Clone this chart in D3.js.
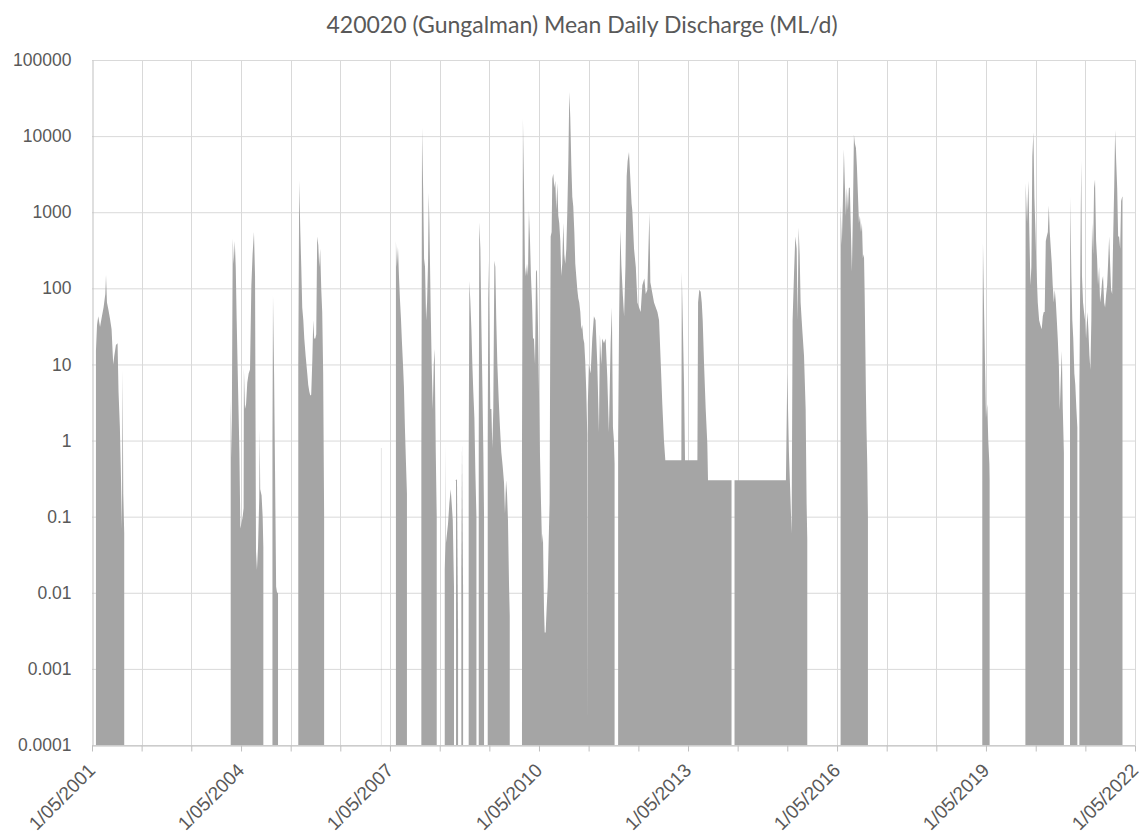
<!DOCTYPE html>
<html>
<head>
<meta charset="utf-8">
<script src="https://cdn.jsdelivr.net/npm/d3@7"></script>
<style>
  body { margin: 0; background: #fff; }
  svg { display: block; font-family: Lato, "Open Sans", sans-serif; }
  .axis text { fill: #595959; font-size: 17.5px; }
  .axis.x text { font-size: 19px; }
  .title { fill: #595959; font-size: 23px; }
</style>
</head>
<body>
<svg id="chart" width="1147" height="837"></svg>
<script>
const chartTitle = "420020 (Gungalman) Mean Daily Discharge (ML/d)"
const yTickValues = [0.0001, 0.001, 0.01, 0.1, 1, 10, 100, 1000, 10000, 100000]
const yTickLabels = ["0.0001", "0.001", "0.01", "0.1", "1", "10", "100", "1000", "10000", "100000"]
const gridYears = [2001, 2002, 2003, 2004, 2005, 2006, 2007, 2008, 2009, 2010, 2011,
    2012, 2013, 2014, 2015, 2016, 2017, 2018, 2019, 2020, 2021, 2022]
const labelYears = [2001, 2004, 2007, 2010, 2013, 2016, 2019, 2022]

// flow events, [date, ML/d] read off the envelope; no flow between events
const flow2001 = [["2001-05-30", 15], ["2001-06-07", 33], ["2001-06-16", 43], ["2001-06-29", 31],
    ["2001-07-13", 43], ["2001-07-25", 56], ["2001-08-07", 84], ["2001-08-12", 150], ["2001-08-19", 65],
    ["2001-08-29", 53], ["2001-09-10", 40], ["2001-09-22", 29], ["2001-10-04", 10], ["2001-10-12", 13],
    ["2001-10-24", 18], ["2001-11-05", 19], ["2001-11-12", 4.4], ["2001-11-22", 1.5], ["2001-11-29", 0.4],
    ["2001-12-07", 0.07], ["2001-12-12", 8.5], ["2001-12-17", 0.2], ["2001-12-24", 0.06]]
const flow2004 = [["2004-02-15", 3.4], ["2004-02-22", 0.6], ["2004-03-01", 450], ["2004-03-08", 210],
    ["2004-03-16", 420], ["2004-03-23", 190], ["2004-03-30", 38], ["2004-04-09", 5], ["2004-04-19", 0.7],
    ["2004-04-26", 0.07], ["2004-05-13", 0.1], ["2004-05-20", 0.13], ["2004-05-22", 9], ["2004-05-30", 2.6],
    ["2004-06-07", 3], ["2004-06-16", 5.8], ["2004-06-26", 7.6], ["2004-07-06", 8.6], ["2004-07-16", 110],
    ["2004-07-25", 280], ["2004-08-04", 550], ["2004-08-12", 145], ["2004-08-19", 0.035], ["2004-08-26", 0.02],
    ["2004-09-03", 0.04], ["2004-09-12", 0.18], ["2004-09-15", 1.4], ["2004-09-19", 0.23], ["2004-09-29", 0.19],
    ["2004-10-07", 0.1], ["2004-10-12", 0.04]]
const flow2005a = [["2004-12-18", 1], ["2004-12-22", 80], ["2004-12-30", 7.6], ["2005-01-06", 0.4],
    ["2005-01-14", 0.012], ["2005-01-21", 0.01], ["2005-01-28", 0.01]]
const flow2005b = [["2005-06-26", 10], ["2005-07-03", 2600], ["2005-07-11", 550], ["2005-07-18", 190],
    ["2005-07-25", 56], ["2005-08-02", 38], ["2005-08-09", 22], ["2005-08-19", 13], ["2005-08-31", 7.6],
    ["2005-09-07", 5.4], ["2005-09-15", 4.4], ["2005-09-22", 3.9], ["2005-09-29", 4], ["2005-10-07", 11],
    ["2005-10-14", 38], ["2005-10-21", 22], ["2005-10-29", 22], ["2005-11-05", 25], ["2005-11-12", 480],
    ["2005-11-20", 370], ["2005-11-27", 190], ["2005-12-04", 330], ["2005-12-12", 96], ["2005-12-19", 49],
    ["2005-12-26", 7.6], ["2006-01-02", 0.1]]
const flow2007a = [["2007-02-24", 0.8], ["2007-02-26", 0.8]]
const flow2007b = [["2007-06-14", 420], ["2007-06-21", 190], ["2007-06-29", 350], ["2007-07-06", 150],
    ["2007-07-13", 75], ["2007-07-21", 40], ["2007-07-28", 20], ["2007-08-05", 10], ["2007-08-12", 5],
    ["2007-08-19", 1.5], ["2007-08-27", 0.5], ["2007-09-03", 0.2]]
const flow2008a = [["2007-12-18", 0.7], ["2007-12-23", 12900], ["2007-12-31", 2100], ["2008-01-07", 245],
    ["2008-01-14", 190], ["2008-01-22", 38], ["2008-01-29", 65], ["2008-02-05", 210], ["2008-02-10", 1800],
    ["2008-02-15", 720], ["2008-02-20", 190], ["2008-02-25", 49], ["2008-03-03", 10], ["2008-03-11", 2.6],
    ["2008-03-18", 10], ["2008-03-25", 16], ["2008-04-02", 0.7], ["2008-04-09", 0.1]]
const flow2008b = [["2008-06-07", 0.02], ["2008-06-12", 0.045], ["2008-06-14", 0.9], ["2008-06-16", 0.045],
    ["2008-07-01", 0.08], ["2008-07-11", 0.15], ["2008-07-21", 0.23], ["2008-07-28", 0.15], ["2008-08-05", 0.09],
    ["2008-08-14", 0.012]]
const flow2008c = [["2008-08-29", 0.3], ["2008-09-05", 0.31], ["2008-09-13", 0.003]]
const flow2008d = [["2008-10-07", 0.02], ["2008-10-12", 0.9], ["2008-10-20", 0.01]]
const flow2009a = [["2008-11-30", 0.5], ["2008-12-05", 125], ["2008-12-12", 69], ["2008-12-20", 29],
    ["2008-12-27", 10], ["2009-01-03", 4.4], ["2009-01-11", 2], ["2009-01-18", 0.4], ["2009-01-26", 0.1]]
const flow2009b = [["2009-02-12", 1], ["2009-02-16", 740], ["2009-02-24", 330], ["2009-03-03", 38],
    ["2009-03-11", 5], ["2009-03-18", 0.7], ["2009-03-23", 0.1]]
const flow2009c = [["2009-04-19", 1], ["2009-04-24", 230], ["2009-05-01", 38], ["2009-05-08", 2.6],
    ["2009-05-16", 2.6], ["2009-05-23", 0.8], ["2009-05-30", 2.6], ["2009-06-07", 230], ["2009-06-14", 190],
    ["2009-06-21", 38], ["2009-06-29", 10], ["2009-07-09", 3.4], ["2009-07-18", 1.5], ["2009-07-28", 0.7],
    ["2009-08-07", 0.46], ["2009-08-17", 0.28], ["2009-08-24", 0.11], ["2009-09-01", 0.3], ["2009-09-08", 0.2],
    ["2009-09-15", 0.09], ["2009-09-23", 0.012], ["2009-09-28", 0.005]]
const flow2010 = [["2009-12-27", 0.7], ["2010-01-03", 16800], ["2010-01-11", 2100], ["2010-01-18", 190],
    ["2010-01-25", 145], ["2010-02-02", 210], ["2010-02-09", 145], ["2010-02-16", 1070], ["2010-02-24", 420],
    ["2010-03-03", 145], ["2010-03-11", 65], ["2010-03-18", 22], ["2010-03-25", 22], ["2010-04-02", 10],
    ["2010-04-09", 165], ["2010-04-16", 175], ["2010-04-24", 29], ["2010-05-01", 4.4], ["2010-05-08", 0.7],
    ["2010-05-16", 0.15], ["2010-05-23", 0.045], ["2010-05-30", 0.06], ["2010-06-07", 0.006], ["2010-06-12", 0.003],
    ["2010-06-19", 0.003], ["2010-06-26", 0.006], ["2010-07-04", 0.012], ["2010-07-11", 0.045], ["2010-07-18", 0.15],
    ["2010-07-26", 480], ["2010-08-02", 550], ["2010-08-07", 2750], ["2010-08-14", 3200], ["2010-08-22", 2100],
    ["2010-08-29", 2600], ["2010-09-05", 1070], ["2010-09-13", 2400], ["2010-09-20", 900], ["2010-09-27", 720],
    ["2010-10-05", 420], ["2010-10-12", 145], ["2010-10-19", 210], ["2010-10-27", 720], ["2010-11-03", 280],
    ["2010-11-10", 210], ["2010-11-18", 330], ["2010-11-25", 970], ["2010-12-03", 4700], ["2010-12-10", 38000],
    ["2010-12-17", 18000], ["2010-12-25", 4100], ["2011-01-01", 1600], ["2011-01-08", 1200], ["2011-01-16", 550],
    ["2011-01-23", 210], ["2011-01-30", 145], ["2011-02-07", 96], ["2011-02-14", 74], ["2011-02-21", 65],
    ["2011-03-01", 49], ["2011-03-08", 29], ["2011-03-15", 33], ["2011-03-23", 22], ["2011-03-30", 19],
    ["2011-04-06", 11], ["2011-04-14", 4.4], ["2011-04-21", 1.2], ["2011-04-23", 0.0002], ["2011-04-25", 3],
    ["2011-05-03", 10], ["2011-05-16", 7.6], ["2011-05-28", 22], ["2011-06-09", 43], ["2011-06-21", 38],
    ["2011-07-04", 10], ["2011-07-16", 1.3], ["2011-07-23", 25], ["2011-08-02", 10], ["2011-08-09", 22],
    ["2011-08-22", 19], ["2011-09-03", 22], ["2011-09-15", 7], ["2011-09-27", 1.3], ["2011-10-10", 19],
    ["2011-10-19", 56], ["2011-10-27", 1.5], ["2011-11-03", 1.0], ["2011-11-08", 0.5]]
const flow2012 = [["2011-12-04", 1], ["2011-12-11", 38], ["2011-12-20", 590], ["2011-12-28", 200],
    ["2012-01-08", 80], ["2012-01-17", 43], ["2012-01-27", 200], ["2012-02-05", 3000], ["2012-02-12", 4700],
    ["2012-02-22", 6200], ["2012-03-06", 2100], ["2012-03-12", 1300], ["2012-03-17", 1070], ["2012-03-30", 330],
    ["2012-04-12", 190], ["2012-04-24", 65], ["2012-05-06", 56], ["2012-05-18", 49], ["2012-05-30", 110],
    ["2012-06-14", 135], ["2012-06-24", 84], ["2012-07-06", 96], ["2012-07-21", 990], ["2012-07-28", 120],
    ["2012-08-24", 65], ["2012-09-18", 49], ["2012-09-30", 38], ["2012-10-12", 11], ["2012-10-24", 3],
    ["2012-11-05", 1], ["2012-11-15", 0.55], ["2013-03-13", 0.55], ["2013-03-16", 165], ["2013-03-23", 40],
    ["2013-04-02", 5], ["2013-04-09", 0.55], ["2013-07-09", 0.55], ["2013-07-14", 65], ["2013-07-23", 96],
    ["2013-08-02", 90], ["2013-08-10", 65], ["2013-08-17", 38], ["2013-08-27", 10], ["2013-09-08", 2.6],
    ["2013-09-20", 0.9], ["2013-09-25", 0.3], ["2014-03-17", 0.3]]
const flow2014 = [["2014-04-08", 0.3], ["2015-04-21", 0.3], ["2015-05-01", 7.6], ["2015-05-13", 0.7],
    ["2015-05-26", 0.14], ["2015-06-02", 0.06], ["2015-06-09", 38], ["2015-06-19", 145], ["2015-06-29", 480],
    ["2015-07-09", 330], ["2015-07-16", 38], ["2015-07-23", 630], ["2015-07-31", 280], ["2015-08-07", 65],
    ["2015-08-19", 29], ["2015-09-01", 13], ["2015-09-13", 2.6], ["2015-09-20", 0.15], ["2015-09-25", 0.05]]
const flow2016 = [["2016-05-27", 1230], ["2016-06-05", 370], ["2016-06-13", 1400], ["2016-06-20", 6700],
    ["2016-06-27", 2400], ["2016-07-05", 900], ["2016-07-12", 2100], ["2016-07-20", 1070], ["2016-07-27", 2100],
    ["2016-08-03", 2100], ["2016-08-11", 550], ["2016-08-18", 165], ["2016-08-26", 1070], ["2016-09-02", 10500],
    ["2016-09-09", 8000], ["2016-09-17", 7000], ["2016-09-24", 4000], ["2016-10-01", 1800], ["2016-10-09", 720],
    ["2016-10-16", 900], ["2016-10-24", 550], ["2016-10-31", 720], ["2016-11-07", 250], ["2016-11-15", 280],
    ["2016-11-20", 84], ["2016-11-25", 17], ["2016-11-29", 4.4], ["2016-12-04", 1.3], ["2016-12-09", 0.5],
    ["2016-12-14", 0.1]]
const flow2019 = [["2019-04-04", 5], ["2019-04-09", 390], ["2019-04-16", 65], ["2019-04-24", 10],
    ["2019-05-01", 2], ["2019-05-11", 3], ["2019-05-18", 1], ["2019-05-26", 0.5], ["2019-05-28", 0.3]]
const flow2020 = [["2020-02-15", 10], ["2020-02-17", 2400], ["2020-02-27", 720], ["2020-03-08", 2600],
    ["2020-03-15", 550], ["2020-03-23", 110], ["2020-03-30", 190], ["2020-04-06", 5400], ["2020-04-14", 11200],
    ["2020-04-21", 1600], ["2020-04-29", 550], ["2020-05-06", 190], ["2020-05-16", 65], ["2020-05-26", 38],
    ["2020-06-04", 33], ["2020-06-14", 29], ["2020-06-22", 43], ["2020-06-29", 49], ["2020-07-06", 49],
    ["2020-07-14", 420], ["2020-07-21", 480], ["2020-07-29", 550], ["2020-08-05", 1230], ["2020-08-12", 550],
    ["2020-08-20", 330], ["2020-08-27", 210], ["2020-09-03", 110], ["2020-09-11", 65], ["2020-09-18", 96],
    ["2020-09-26", 65], ["2020-10-03", 38], ["2020-10-10", 22], ["2020-10-18", 10], ["2020-10-25", 2.5],
    ["2020-11-02", 7], ["2020-11-09", 15], ["2020-11-16", 2.6], ["2020-11-24", 0.7]]
const flow2021a = [["2021-01-08", 10], ["2021-01-10", 1600], ["2021-01-18", 145], ["2021-01-25", 38],
    ["2021-02-01", 22], ["2021-02-09", 7.6], ["2021-02-16", 5.4], ["2021-02-24", 2.6], ["2021-03-03", 1.5]]
const flow2021b = [["2021-03-18", 5], ["2021-03-28", 1000], ["2021-04-01", 4700], ["2021-04-06", 145],
    ["2021-04-14", 65], ["2021-04-21", 49], ["2021-04-29", 38], ["2021-05-06", 22], ["2021-05-16", 49],
    ["2021-05-23", 29], ["2021-05-31", 13], ["2021-06-07", 8.5], ["2021-06-14", 38], ["2021-06-19", 720],
    ["2021-06-27", 280], ["2021-07-04", 2100], ["2021-07-11", 2700], ["2021-07-19", 420], ["2021-07-26", 250],
    ["2021-08-02", 110], ["2021-08-10", 190], ["2021-08-17", 65], ["2021-08-25", 84], ["2021-09-01", 125],
    ["2021-09-08", 145], ["2021-09-16", 65], ["2021-09-23", 56], ["2021-10-01", 84], ["2021-10-08", 110],
    ["2021-10-15", 210], ["2021-10-23", 480], ["2021-10-30", 210], ["2021-11-06", 96], ["2021-11-14", 84],
    ["2021-11-21", 420], ["2021-11-29", 2100], ["2021-12-06", 12000], ["2021-12-13", 5000], ["2021-12-21", 2100],
    ["2021-12-28", 480], ["2022-01-04", 480], ["2022-01-12", 330], ["2022-01-19", 1400], ["2022-01-27", 1600],
    ["2022-01-29", 1600]]

const events = [flow2001, flow2004, flow2005a, flow2005b, flow2007a, flow2007b, flow2008a, flow2008b,
    flow2008c, flow2008d, flow2009a, flow2009b, flow2009c, flow2010, flow2012, flow2014, flow2016,
    flow2019, flow2020, flow2021a, flow2021b]


const margin = {top: 60, right: 12, bottom: 92, left: 92},
    width = 1147,
    height = 837

const parse = d3.timeParse("%Y-%m-%d")
const may1 = y => new Date(y, 4, 1)
const fmt = d3.timeFormat("%-d/%m/%Y")

const svg = d3.select("#chart")

const fx = d3.scaleTime()
    .domain([may1(gridYears[0]), may1(gridYears[gridYears.length - 1])])
    .range([margin.left, width - margin.right])
const fy = d3.scaleLog()
    .domain([yTickValues[0], yTickValues[yTickValues.length - 1]])
    .range([height - margin.bottom, margin.top])

svg.append("text")
    .attr("class", "title")
    .attr("x", 582)
    .attr("y", 33)
    .attr("text-anchor", "middle")
    .text(chartTitle)

// gridlines
svg.append("g")
    .selectAll("line.h")
    .data(yTickValues)
    .join("line")
    .attr("x1", margin.left).attr("x2", width - margin.right)
    .attr("y1", d => fy(d) + 0.5).attr("y2", d => fy(d) + 0.5)
    .attr("stroke", "#d9d9d9")
svg.append("g")
    .selectAll("line.v")
    .data(gridYears.slice(1))
    .join("line")
    .attr("x1", d => Math.round(fx(may1(d))) + 0.5).attr("x2", d => Math.round(fx(may1(d))) + 0.5)
    .attr("y1", margin.top).attr("y2", height - margin.bottom)
    .attr("stroke", "#d9d9d9")

const area = d3.area()
    .x(d => fx(parse(d[0])))
    .y0(fy(yTickValues[0]))
    .y1(d => fy(d[1]))

svg.append("g")
    .selectAll("path")
    .data(events)
    .join("path")
    .attr("fill", "#a5a5a5")
    .attr("d", area)

// x axis
const xAxis = svg.append("g")
    .attr("class", "axis x")
    .attr("transform", "translate(0," + (height - margin.bottom + 0.5) + ")")
    .call(d3.axisBottom(fx)
        .tickValues(gridYears.map(may1))
        .tickSize(6)
        .tickSizeOuter(0)
        .tickFormat(d => labelYears.includes(d.getFullYear()) ? fmt(d) : ""))
xAxis.selectAll("line, path").attr("stroke", "#bfbfbf")
xAxis.selectAll("text")
    .attr("text-anchor", "end")
    .attr("dy", 0)
    .attr("y", 0)
    .attr("transform", "translate(4,26) rotate(-45)")

// y axis
const yAxis = svg.append("g")
    .attr("class", "axis")
    .attr("transform", "translate(" + (margin.left + 0.5) + ",0)")
    .call(d3.axisLeft(fy)
        .tickValues(yTickValues)
        .tickSize(0)
        .tickPadding(21)
        .tickFormat((d, i) => yTickLabels[i]))
yAxis.selectAll("path").attr("stroke", "#bfbfbf")
</script>
</body>
</html>
